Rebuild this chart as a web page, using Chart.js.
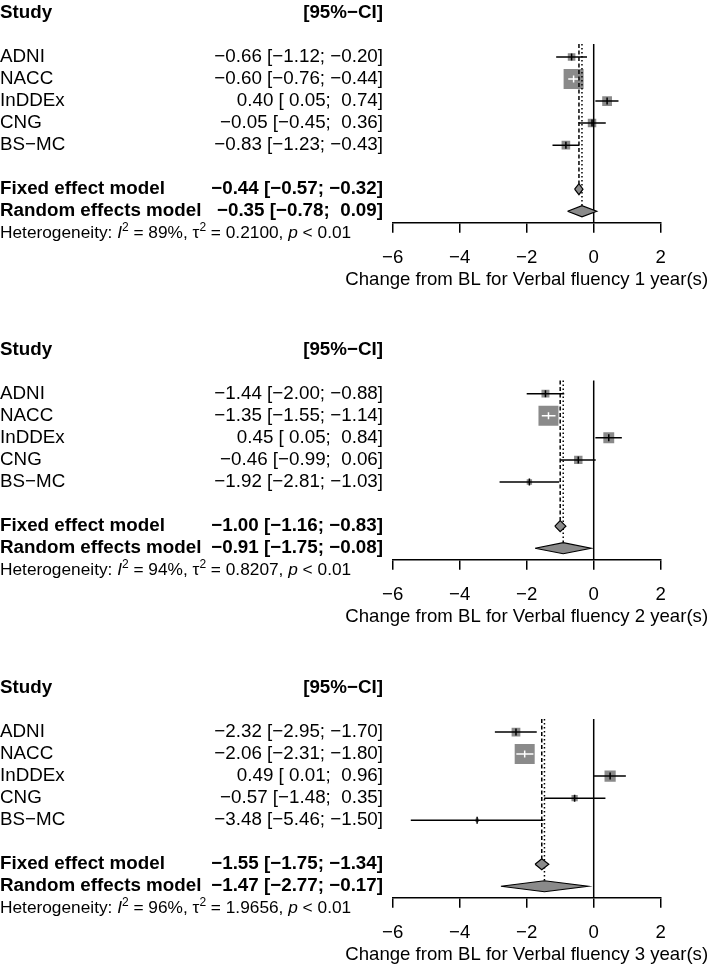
<!DOCTYPE html>
<html>
<head>
<meta charset="utf-8">
<script src="https://cdn.jsdelivr.net/npm/chart.js@4.4.1/dist/chart.umd.min.js"></script>
<style>
  body { margin: 0; background: #fff; overflow: hidden; }
  .panel { position: absolute; left: 0; width: 709px; height: 300px; }
</style>
</head>
<body>
<div class="panel" style="top:0px"><canvas id="p0" width="709" height="300"></canvas></div>
<div class="panel" style="top:337px"><canvas id="p1" width="709" height="300"></canvas></div>
<div class="panel" style="top:675px"><canvas id="p2" width="709" height="300"></canvas></div>
<script>
const studies = ['ADNI', 'NACC', 'InDDEx', 'CNG', 'BS−MC'];

// 1 year
const est1 = [-0.66, -0.60, 0.40, -0.05, -0.83];
const lower1 = [-1.12, -0.76, 0.05, -0.45, -1.23];
const upper1 = [-0.20, -0.44, 0.74, 0.36, -0.43];
const weight1 = [7.3, 60.5, 13.0, 9.4, 9.7];
const fixed1 = [-0.44, -0.57, -0.32];
const random1 = [-0.35, -0.78, 0.09];

// 2 years
const est2 = [-1.44, -1.35, 0.45, -0.46, -1.92];
const lower2 = [-2.00, -1.55, 0.05, -0.99, -2.81];
const upper2 = [-0.88, -1.14, 0.84, 0.06, -1.03];
const weight2 = [8.3, 62.2, 16.8, 9.5, 3.3];
const fixed2 = [-1.00, -1.16, -0.83];
const random2 = [-0.91, -1.75, -0.08];

// 3 years
const est3 = [-2.32, -2.06, 0.49, -0.57, -3.48];
const lower3 = [-2.95, -2.31, 0.01, -1.48, -5.46];
const upper3 = [-1.70, -1.80, 0.96, 0.35, -1.50];
const weight3 = [10.7, 64.6, 18.6, 5.0, 1.1];
const fixed3 = [-1.55, -1.75, -1.34];
const random3 = [-1.47, -2.77, -0.17];

const hetI2 = ['89%', '94%', '96%'];
const hetTau2 = ['0.2100', '0.8207', '1.9656'];
const hetP = ['< 0.01', '< 0.01', '< 0.01'];
const xTicks = [-6, -4, -2, 0, 2];
const axisTitles = [
  'Change from BL for Verbal fluency 1 year(s)',
  'Change from BL for Verbal fluency 2 year(s)',
  'Change from BL for Verbal fluency 3 year(s)'
];

const panels = [
  [est1, lower1, upper1, weight1, fixed1, random1],
  [est2, lower2, upper2, weight2, fixed2, random2],
  [est3, lower3, upper3, weight3, fixed3, random3]
];

// row layout (in y scale units)
const studyRows = [1, 2, 3, 4, 5];
const ROW_HEAD = -1, ROW_FIXED = 7, ROW_RANDOM = 8, ROW_HET = 9;
const Y_MIN = -1.31, Y_MAX = 8.52, LINE_TOP = 0.41, DIA_H = 0.25;
const GRAY = '#8a8a8a';
const MAX_SIDE = 19;
const FONT = '"Liberation Sans", Arial, Helvetica, sans-serif';
const FS = 18.8;      // table text
const FS_HET = 17.3;  // heterogeneity line
const FS_AXIS = 18.6; // tick labels and axis title

Chart.defaults.font.family = FONT;
Chart.defaults.color = '#000';

function minus(s) { return String(s).replace('-', '−'); }
function num(v) { return (v < 0 ? '−' : '') + Math.abs(v).toFixed(2); }
function signed(v) { return (v < 0 ? '−' : ' ') + Math.abs(v).toFixed(2); }
function ciText(e, l, h) { return num(e) + ' [' + signed(l) + '; ' + signed(h) + ']'; }

function insideSquare(chart, l, h, side) {
  const xs = chart.scales.x;
  return Math.abs(xs.getPixelForValue(h) - xs.getPixelForValue(l)) < side;
}

function diamond(m, row) {
  return [
    {x: m[1], y: row}, {x: m[0], y: row - DIA_H},
    {x: m[2], y: row}, {x: m[0], y: row + DIA_H}, {x: m[1], y: row}
  ];
}

function buildDatasets(est, lo, hi, w, fixed, random) {
  const wmax = Math.max(...w);
  const sides = w.map(v => MAX_SIDE * Math.sqrt(v / wmax) + 1);
  const ds = [];

  // squares
  ds.push({
    data: est.map((v, i) => ({x: v, y: studyRows[i]})),
    showLine: false,
    pointStyle: 'rect',
    pointRadius: sides.map(s => s / Math.SQRT2),
    pointBackgroundColor: GRAY,
    pointBorderWidth: 0,
    order: 6
  });

  // confidence intervals
  est.forEach((v, i) => {
    ds.push({
      data: [{x: lo[i], y: studyRows[i]}, {x: hi[i], y: studyRows[i]}],
      borderColor: ctx => insideSquare(ctx.chart, lo[i], hi[i], sides[i]) ? '#fff' : '#000',
      borderWidth: 1.5,
      pointRadius: 0,
      order: 5
    });
  });

  // estimate ticks
  ds.push({
    data: est.map((v, i) => ({x: v, y: studyRows[i]})),
    showLine: false,
    pointStyle: 'line',
    rotation: 90,
    pointRadius: 3.5,
    pointBorderWidth: 1.5,
    pointBorderColor: ctx => {
      const i = ctx.dataIndex;
      return insideSquare(ctx.chart, lo[i], hi[i], sides[i]) ? '#fff' : '#000';
    },
    order: 4
  });

  // line of no effect
  ds.push({
    data: [{x: 0, y: LINE_TOP}, {x: 0, y: Y_MAX}],
    borderColor: '#000', borderWidth: 1.5, pointRadius: 0, order: 3
  });
  // fixed effect line (dashed)
  ds.push({
    data: [{x: fixed[0], y: LINE_TOP}, {x: fixed[0], y: ROW_FIXED - DIA_H}],
    borderColor: '#000', borderWidth: 1.5, borderDash: [4, 2.5], pointRadius: 0, order: 3
  });
  // random effects line (dotted)
  ds.push({
    data: [{x: random[0], y: LINE_TOP}, {x: random[0], y: ROW_RANDOM - DIA_H}],
    borderColor: '#000', borderWidth: 1.5, borderDash: [1.5, 2.5], pointRadius: 0, order: 3
  });

  // diamonds
  [[fixed, ROW_FIXED], [random, ROW_RANDOM]].forEach(([m, row]) => {
    ds.push({
      data: diamond(m, row),
      borderColor: '#000', borderWidth: 1.2,
      backgroundColor: GRAY, fill: 'shape',
      pointRadius: 0, tension: 0, order: 2
    });
  });
  return ds;
}

const forestText = {
  id: 'forestText',
  afterDraw(chart, args, opts) {
    const k = opts.panel;
    const [est, lo, hi, w, fixed, random] = panels[k];
    const ctx = chart.ctx;
    const ys = chart.scales.y;
    const yOf = r => ys.getPixelForValue(r);
    const normal = FS + 'px ' + FONT;
    const bold = 'bold ' + FS + 'px ' + FONT;
    const RIGHT = 383;
    ctx.save();
    ctx.fillStyle = '#000';
    ctx.textBaseline = 'middle';

    ctx.font = bold;
    ctx.textAlign = 'left';
    ctx.fillText('Study', 0, yOf(ROW_HEAD));
    ctx.textAlign = 'right';
    ctx.fillText('[95%−CI]', RIGHT, yOf(ROW_HEAD));

    ctx.font = normal;
    studies.forEach((s, i) => {
      ctx.textAlign = 'left';
      ctx.fillText(s, 0, yOf(studyRows[i]));
      ctx.textAlign = 'right';
      ctx.fillText(ciText(est[i], lo[i], hi[i]), RIGHT, yOf(studyRows[i]));
    });

    ctx.font = bold;
    [['Fixed effect model', fixed, ROW_FIXED], ['Random effects model', random, ROW_RANDOM]].forEach(([lab, m, row]) => {
      ctx.textAlign = 'left';
      ctx.fillText(lab, 0, yOf(row));
      ctx.textAlign = 'right';
      ctx.fillText(ciText(m[0], m[1], m[2]), RIGHT, yOf(row));
    });

    // heterogeneity line with italics and superscripts
    const hy = yOf(ROW_HET);
    const hn = FS_HET + 'px ' + FONT;
    const sup = Math.round(FS_HET * 0.7) + 'px ' + FONT;
    const parts = [
      ['Heterogeneity: ', hn, 0],
      ['I', 'italic ' + hn, 0],
      ['2', sup, -6],
      [' = ' + hetI2[k] + ', ', hn, 0],
      ['τ', hn, 0],
      ['2', sup, -6],
      [' = ' + hetTau2[k] + ', ', hn, 0],
      ['p', 'italic ' + hn, 0],
      [' ' + hetP[k], hn, 0]
    ];
    ctx.textAlign = 'left';
    let x = 0;
    parts.forEach(([t, f, dy]) => {
      ctx.font = f;
      ctx.fillText(t, x, hy + dy);
      x += ctx.measureText(t).width;
    });

    // axis title, centred on the axis, free to run past the plot edge
    const area = chart.chartArea;
    ctx.font = FS_AXIS + 'px ' + FONT;
    ctx.textAlign = 'center';
    ctx.fillText(axisTitles[k], (area.left + area.right) / 2, area.bottom + 57);
    ctx.restore();
  }
};

panels.forEach((p, k) => {
  new Chart(document.getElementById('p' + k), {
    type: 'line',
    data: { datasets: buildDatasets(...p) },
    options: {
      responsive: false,
      animation: false,
      events: [],
      layout: { padding: { left: 392.7, right: 48.3, top: 0, bottom: 0 } },
      plugins: {
        legend: { display: false },
        tooltip: { enabled: false },
        forestText: { panel: k }
      },
      scales: {
        x: {
          type: 'linear',
          min: xTicks[0],
          max: xTicks[xTicks.length - 1],
          afterBuildTicks: s => { s.ticks = xTicks.map(v => ({value: v})); },
          afterFit: s => { s.height = 300 - 222.7; },
          grid: { drawOnChartArea: false, drawTicks: true, tickLength: 10, color: '#000', lineWidth: 1.5 },
          border: { display: true, color: '#000', width: 1.5 },
          ticks: { padding: 14, font: { size: FS_AXIS }, color: '#000', callback: v => minus(v), maxRotation: 0 },
          title: { display: false }
        },
        y: { type: 'linear', reverse: true, min: Y_MIN, max: Y_MAX, display: false }
      }
    },
    plugins: [forestText]
  });
});
</script>
</body>
</html>
